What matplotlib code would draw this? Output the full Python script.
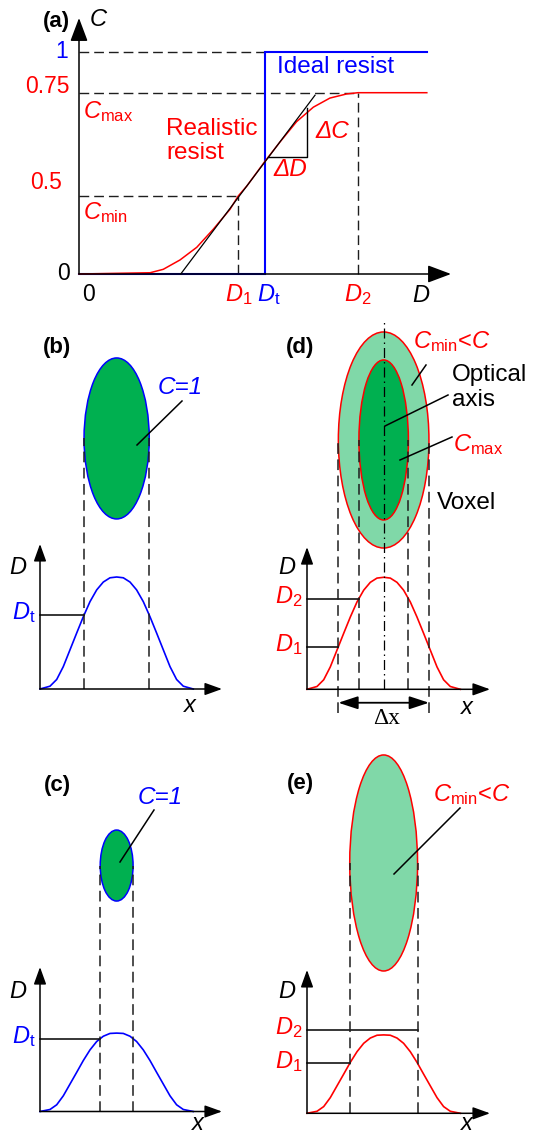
import numpy as np
import matplotlib
matplotlib.use("Agg")
import matplotlib.pyplot as plt
from matplotlib.patches import Ellipse

plt.rcParams["font.family"] = ["Liberation Sans", "DejaVu Sans"]
plt.rcParams["mathtext.fontset"] = "custom"
plt.rcParams["mathtext.rm"] = "Liberation Sans"
plt.rcParams["mathtext.it"] = "Liberation Sans:italic"
plt.rcParams["mathtext.bf"] = "Liberation Sans:bold"

BLUE = "#0000ff"
RED = "#ff0000"
GREEN = "#00b050"
LIGHT_GREEN = "#80d8a8"
DASH = "#1e1e1e"
DASHED = (0, (7, 3.6))
DASHDOT = (0, (8, 3.2, 1.2, 3.2))

# ---------------- (a) contrast C versus dose D ----------------
D_1 = 0.856
D_t = 1.0
D_2 = 1.5
D_end = 1.87
C_min = 0.5
C_max = 0.75
C_ideal = 1.0

ideal_D = [0.0, D_t, D_t, D_end]
ideal_C = [0.0, 0.0, C_ideal, C_ideal]

real_D = [0.0, 0.382, 0.453, 0.543, 0.633, 0.722, 0.812, 0.856, 0.902, 1.0,
          1.081, 1.170, 1.260, 1.349, 1.439, 1.5, 1.87]
real_C = [0.0, 0.008, 0.030, 0.090, 0.171, 0.287, 0.415, 0.5, 0.524, 0.584,
          0.631, 0.680, 0.715, 0.737, 0.747, 0.75, 0.75]

tangent_D = [0.547, 1.269]
tangent_C = [0.0, 0.744]
slope_D = [1.016, 1.224, 1.224]
slope_C = [0.595, 0.595, 0.712]

c_ticks = [0.0, 0.5, 0.75, 1.0]
c_tick_labels = ["0", "0.5", "0.75", "1"]

# ---------------- (b)-(e) lateral dose profiles ----------------
x_pos = [0, 10, 16.7, 23.3, 30, 36.7, 43.3, 50, 56.7, 63.3, 70, 76.7,
         83.3, 90, 96.6, 103.3, 110, 116.6, 123.3, 130, 136.6, 143.3, 153.3]
dose_high = [0, 0.025, 0.085, 0.20, 0.35, 0.50, 0.645, 0.78, 0.885, 0.955, 0.993, 1.0,
             0.993, 0.955, 0.885, 0.78, 0.645, 0.50, 0.35, 0.20, 0.085, 0.025, 0]
dose_low = [0, 0.018, 0.06, 0.14, 0.245, 0.35, 0.455, 0.55, 0.625, 0.672, 0.697, 0.70,
            0.697, 0.672, 0.625, 0.55, 0.455, 0.35, 0.245, 0.14, 0.06, 0.018, 0]

Dt_b = 0.66
Dt_c = 0.65
D1_d = 0.38
D2_d = 0.81
D1_e = 0.446
D2_e = 0.744

W, H = 538, 1135
fig = plt.figure(figsize=(W / 100, H / 100), dpi=100)


def _piecewise(v, xs, ys):
    v = np.asarray(v, dtype=float)
    s0 = (ys[1] - ys[0]) / (xs[1] - xs[0])
    s1 = (ys[-1] - ys[-2]) / (xs[-1] - xs[-2])
    return np.where(v < xs[0], ys[0] + (v - xs[0]) * s0,
                    np.where(v > xs[-1], ys[-1] + (v - xs[-1]) * s1,
                             np.interp(v, xs, ys)))


# schematic (not-to-scale) C axis: pixel height above the D axis for each tick
C_KNOTS = np.array(c_ticks)
U_KNOTS = np.array([0.0, 78.0, 181.3, 222.3])


def c_to_u(c):
    return _piecewise(c, C_KNOTS, U_KNOTS)


def u_to_c(u):
    return _piecewise(u, U_KNOTS, C_KNOTS)


def crossings(x, d, level):
    x = np.asarray(x, float)
    d = np.asarray(d, float)
    k = int(np.argmax(d))
    left = np.interp(level, d[:k + 1], x[:k + 1])
    right = np.interp(level, d[k:][::-1], x[k:][::-1])
    return float(left), float(right)


def arrow_kw(scale, hl, hw, lw=1.1):
    return dict(arrowstyle=f"-|>,head_length={hl},head_width={hw}",
                mutation_scale=scale, lw=lw, color="k", shrinkA=0, shrinkB=0)


# ---------------- panel (a) ----------------
ax_a = fig.add_axes([0, 1 - 310 / H, 1, 310 / H])
ax_a.set_yscale("function", functions=(c_to_u, u_to_c))
ax_a.set_xlim(-79 / 186, (W - 79) / 186)
ax_a.set_ylim(float(u_to_c(274 - 310)), float(u_to_c(274)))
ax_a.axis("off")

ax_a.plot([0, D_t], [C_ideal, C_ideal], ls=DASHED, color=DASH, lw=1.0)
ax_a.plot([0, D_2], [C_max, C_max], ls=DASHED, color=DASH, lw=1.0)
ax_a.plot([0, D_1], [C_min, C_min], ls=DASHED, color=DASH, lw=1.0)
ax_a.plot([D_1, D_1], [0, C_min], ls=DASHED, color=DASH, lw=1.0)
ax_a.plot([D_2, D_2], [0, C_max], ls=DASHED, color=DASH, lw=1.0)

ax_a.annotate("", xy=(2.0, 0), xytext=(0, 0), arrowprops=arrow_kw(20, 0.72, 0.27))
ax_a.annotate("", xy=(0, float(u_to_c(256))), xytext=(0, 0),
              arrowprops=arrow_kw(20, 0.72, 0.27))

ax_a.plot(ideal_D, ideal_C, color=BLUE, lw=1.5, solid_joinstyle="miter")
ax_a.plot(real_D, real_C, color=RED, lw=1.1)
ax_a.plot(tangent_D, tangent_C, color="k", lw=0.9)
ax_a.plot(slope_D, slope_C, color="k", lw=1.0)

c_label_style = {"0": ("k", -6.5, 0), "0.5": (RED, -12, 9.4),
                 "0.75": (RED, -6.5, 4.8), "1": (BLUE, -8, 0)}
for c, lab in zip(c_ticks, c_tick_labels):
    col, dx, dy = c_label_style[lab]
    ax_a.annotate(lab, xy=(0, c), xytext=(dx, dy), textcoords="offset points",
                  ha="right", va="center", color=col, fontsize=16.5)

ax_a.annotate("0", xy=(0, 0), xytext=(6.5, -15), textcoords="offset points",
              ha="center", va="center", fontsize=16.5)
ax_a.annotate(r"$D_1$", xy=(D_1, 0), xytext=(0.5, -15), textcoords="offset points",
              ha="center", va="center", color=RED, fontsize=17)
ax_a.annotate(r"$D_\mathrm{t}$", xy=(D_t, 0), xytext=(2.5, -15), textcoords="offset points",
              ha="center", va="center", color=BLUE, fontsize=17)
ax_a.annotate(r"$D_2$", xy=(D_2, 0), xytext=(0, -15), textcoords="offset points",
              ha="center", va="center", color=RED, fontsize=17)


# ---------------- panels (b)-(e) ----------------
PX_PER_D = 112.0


def profile_axes(ox, oy, x0, x1, y0, y1):
    ax = fig.add_axes([x0 / W, 1 - y1 / H, (x1 - x0) / W, (y1 - y0) / H])
    ax.set_xlim(x0 - ox, x1 - ox)
    ax.set_ylim((oy - y1) / PX_PER_D, (oy - y0) / PX_PER_D)
    ax.axis("off")
    return ax


def axis_arrows(ax, x_tip, y_tip):
    ax.annotate("", xy=(x_tip, 0), xytext=(0, 0), arrowprops=arrow_kw(14, 0.75, 0.27), zorder=6)
    ax.annotate("", xy=(0, y_tip), xytext=(0, 0), arrowprops=arrow_kw(14, 0.75, 0.27), zorder=6)


def level_label(ax, text, level, color):
    ax.annotate(text, xy=(0, level), xytext=(-3.5, 1.5), textcoords="offset points",
                ha="right", va="center", color=color, fontsize=17)


def vdash(ax, xv, y0, y1):
    ax.plot([xv, xv], [y0, y1], ls=DASHED, color=DASH, lw=1.1, zorder=4)


# (b) ideal resist, high dose
ax_b = profile_axes(40, 689, 0, 265, 315, 740)
bl, br = crossings(x_pos, dose_high, Dt_b)
ax_b.add_patch(Ellipse(((bl + br) / 2, 2.237), br - bl, 1.4375,
                       fc=GREEN, ec=BLUE, lw=1.1, zorder=1))
ax_b.plot(x_pos, dose_high, color=BLUE, lw=1.2, zorder=3)
ax_b.plot([0, bl], [Dt_b, Dt_b], color="k", lw=1.1, zorder=3)
for xv in (bl, br):
    vdash(ax_b, xv, 0, 2.237)
axis_arrows(ax_b, 182, 1.295)
level_label(ax_b, r"$D_\mathrm{t}$", Dt_b, BLUE)

# (c) ideal resist, low dose
ax_c = profile_axes(40, 1111.5, 0, 265, 740, 1135)
cl, cr = crossings(x_pos, dose_low, Dt_c)
ax_c.add_patch(Ellipse(((cl + cr) / 2, 2.196), cr - cl, 0.634,
                       fc=GREEN, ec=BLUE, lw=1.1, zorder=1))
ax_c.plot(x_pos, dose_low, color=BLUE, lw=1.2, zorder=3)
ax_c.plot([0, cl], [Dt_c, Dt_c], color="k", lw=1.1, zorder=3)
for xv in (cl, cr):
    vdash(ax_c, xv, 0, 2.196)
axis_arrows(ax_c, 182, 1.29)
level_label(ax_c, r"$D_\mathrm{t}$", Dt_c, BLUE)

# (d) realistic resist, high dose
ax_d = profile_axes(307, 689.3, 268, 538, 315, 740)
d1l, d1r = crossings(x_pos, dose_high, D1_d)
d2l, d2r = crossings(x_pos, dose_high, D2_d)
cx_d = (d1l + d1r) / 2
ax_d.add_patch(Ellipse((cx_d, 2.226), d1r - d1l, 1.929,
                       fc=LIGHT_GREEN, ec=RED, lw=1.1, zorder=1))
ax_d.add_patch(Ellipse((cx_d, 2.226), d2r - d2l, 1.429,
                       fc=GREEN, ec=RED, lw=1.1, zorder=2))
ax_d.plot(x_pos, dose_high, color=RED, lw=1.2, zorder=3)
ax_d.plot([0, d1l], [D1_d, D1_d], color="k", lw=1.1, zorder=3)
ax_d.plot([0, d2l], [D2_d, D2_d], color="k", lw=1.1, zorder=3)
ax_d.plot([cx_d, cx_d], [0, (689.3 - 321) / PX_PER_D], ls=DASHDOT, color="k", lw=0.9, zorder=5)
for xv in (d2l, d2r):
    vdash(ax_d, xv, 0, 2.226)
for xv in (d1l, d1r):
    vdash(ax_d, xv, -0.214, 2.226)
ax_d.annotate("", xy=(d1r, -0.12), xytext=(d1l, -0.12),
              arrowprops=dict(arrowstyle="<|-|>,head_length=0.85,head_width=0.28",
                              mutation_scale=14, lw=1.3, color="k", shrinkA=0, shrinkB=0))
axis_arrows(ax_d, 183, 1.27)
level_label(ax_d, r"$D_2$", D2_d, RED)
level_label(ax_d, r"$D_1$", D1_d, RED)

# (e) realistic resist, low dose
ax_e = profile_axes(307, 1113.3, 268, 538, 740, 1135)
el, er = crossings(x_pos, dose_low, D1_e)
ax_e.add_patch(Ellipse(((el + er) / 2, 2.235), er - el, 1.929,
                       fc=LIGHT_GREEN, ec=RED, lw=1.1, zorder=1))
ax_e.plot(x_pos, dose_low, color=RED, lw=1.2, zorder=3)
ax_e.plot([0, el], [D1_e, D1_e], color="k", lw=1.1, zorder=3)
ax_e.plot([0, er], [D2_e, D2_e], color="k", lw=1.1, zorder=3)
for xv in (el, er):
    vdash(ax_e, xv, 0, 2.235)
axis_arrows(ax_e, 183, 1.28)
level_label(ax_e, r"$D_2$", D2_e, RED)
level_label(ax_e, r"$D_1$", D1_e, RED)

# ---------------- annotations (figure pixel frame) ----------------
ov = fig.add_axes([0, 0, 1, 1])
ov.set_xlim(0, W)
ov.set_ylim(H, 0)
ov.axis("off")

FS = 17.5


def txt(x, y, s, **kw):
    kw.setdefault("fontsize", FS)
    kw.setdefault("va", "center")
    ov.text(x, y, s, **kw)


def leader(x0, y0, x1, y1):
    ov.plot([x0, x1], [y0, y1], color="k", lw=1.1)


# (a)
txt(56, 22, "(a)", fontweight="bold", fontsize=16, ha="center")
txt(90, 20, "C", style="italic", fontsize=17, ha="left")
txt(412, 295, "D", style="italic", fontsize=17, ha="left")
txt(83, 112, r"$C_\mathrm{max}$", color=RED, fontsize=17, ha="left")
txt(83, 213, r"$C_\mathrm{min}$", color=RED, fontsize=17, ha="left")
txt(277, 67, "Ideal resist", color=BLUE, ha="left")
txt(166, 141, "Realistic\nresist", color=RED, ha="left", linespacing=1.15)
txt(315, 131, "ΔC", color=RED, style="italic", ha="left")
txt(273, 170, "ΔD", color=RED, style="italic", ha="left")

# (b)
txt(57, 348, "(b)", fontweight="bold", fontsize=16, ha="center")
txt(158, 387, "C=1", color=BLUE, style="italic", ha="left")
leader(182, 401, 137, 445)
txt(18, 568, "D", style="italic", fontsize=17, ha="center")
txt(190, 706, "x", style="italic", fontsize=17, ha="center")

# (c)
txt(57, 786, "(c)", fontweight="bold", fontsize=16, ha="center")
txt(138, 798, "C=1", color=BLUE, style="italic", ha="left")
leader(154, 810, 120, 862)
txt(18, 992, "D", style="italic", fontsize=17, ha="center")
txt(198, 1123, "x", style="italic", fontsize=17, ha="center")

# (d)
txt(300, 348, "(d)", fontweight="bold", fontsize=16, ha="center")
txt(413, 342, r"$C_\mathrm{min}$<$C$", color=RED, fontsize=17, ha="left")
leader(426, 365, 412, 385)
txt(452, 387.5, "Optical\naxis", ha="left", linespacing=1.19)
leader(448, 395, 385, 426)
txt(453, 445, r"$C_\mathrm{max}$", color=RED, fontsize=17, ha="left")
leader(452, 437, 400, 460)
txt(437, 503, "Voxel", ha="left")
txt(287, 568, "D", style="italic", fontsize=17, ha="center")
txt(387, 718, "Δx", family="Liberation Serif", fontsize=17, ha="center")
txt(467, 707, "x", style="italic", fontsize=17, ha="center")

# (e)
txt(300, 783, "(e)", fontweight="bold", fontsize=16, ha="center")
txt(433, 795, r"$C_\mathrm{min}$<$C$", color=RED, fontsize=17, ha="left")
leader(460, 808, 394, 874)
txt(287, 992, "D", style="italic", fontsize=17, ha="center")
txt(467, 1123, "x", style="italic", fontsize=17, ha="center")

fig.savefig("out.png", dpi=100)
